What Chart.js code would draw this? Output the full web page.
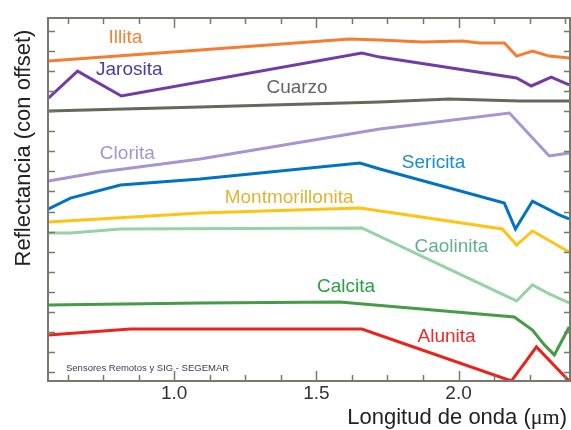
<!DOCTYPE html>
<html>
<head>
<meta charset="utf-8">
<script src="https://cdn.jsdelivr.net/npm/chart.js@4.4.1/dist/chart.umd.min.js"></script>
<style>
  html, body { margin: 0; padding: 0; background: #fff; }
  #wrap { width: 571px; height: 430px; }
</style>
</head>
<body>
<div id="wrap"><canvas id="myChart" width="571" height="430"></canvas></div>
<script>
// minerals, top to bottom
const minerals = ['Illita', 'Jarosita', 'Cuarzo', 'Clorita', 'Sericita',
  'Montmorillonita', 'Caolinita', 'Calcita', 'Alunita'];

// wavelength (um) / reflectance with offset (arbitrary units)
const illitaWl = [0.558, 1.091, 1.617, 1.723, 1.874, 2.014, 2.074, 2.161, 2.204, 2.260, 2.319, 2.389];
const illitaRef = [15.50, 16.05, 16.60, 16.55, 16.45, 16.50, 16.40, 16.40, 15.75, 16.00, 15.75, 15.65];

const jarositaWl = [0.558, 0.660, 0.814, 1.660, 1.723, 2.204, 2.256, 2.326, 2.389];
const jarositaRef = [13.66, 15.00, 13.76, 15.90, 15.70, 14.66, 14.26, 14.70, 14.31];

const cuarzoWl = [0.558, 1.091, 1.723, 1.968, 2.214, 2.389];
const cuarzoRef = [13.01, 13.21, 13.46, 13.61, 13.51, 13.51];

const cloritaWl = [0.558, 0.740, 1.091, 1.723, 2.179, 2.319, 2.389];
const cloritaRef = [9.52, 9.97, 10.62, 12.11, 12.91, 10.77, 10.92];

const sericitaWl = [0.558, 0.635, 0.811, 1.091, 1.653, 1.723, 2.161, 2.200, 2.260, 2.354, 2.389];
const sericitaRef = [8.13, 8.67, 9.32, 9.62, 10.42, 10.12, 8.42, 7.13, 8.52, 7.83, 7.63];

const montmorWl = [0.558, 1.091, 1.653, 2.154, 2.204, 2.260, 2.389];
const montmorRef = [7.48, 7.93, 8.18, 7.13, 6.33, 7.03, 5.98];

const caolinitaWl = [0.558, 0.635, 0.811, 1.660, 2.204, 2.260, 2.319, 2.389];
const caolinitaRef = [6.93, 6.93, 7.13, 7.18, 3.54, 4.34, 3.89, 3.44];

const calcitaWl = [0.558, 1.091, 1.582, 2.196, 2.260, 2.302, 2.337, 2.389];
const calcitaRef = [3.34, 3.44, 3.49, 2.74, 2.09, 1.35, 0.85, 2.24];

const alunitaWl = [0.558, 0.846, 1.660, 2.186, 2.274, 2.389];
const alunitaRef = [1.84, 2.14, 2.14, -0.45, 1.25, -0.45];

// axis ticks
const xTickLabels = ['1.0', '1.5', '2.0'];
const xMajorTicks = [1.0, 1.5, 2.0];
const xMinorStep = 0.125;
const yTickCount = 18;

const wls = [illitaWl, jarositaWl, cuarzoWl, cloritaWl, sericitaWl, montmorWl, caolinitaWl, calcitaWl, alunitaWl];
const refs = [illitaRef, jarositaRef, cuarzoRef, cloritaRef, sericitaRef, montmorRef, caolinitaRef, calcitaRef, alunitaRef];

const lineColors = ['rgb(245,125,50)', 'rgb(115,60,165)', 'rgb(100,105,90)', 'rgb(165,150,210)',
  'rgb(0,115,195)', 'rgb(255,195,20)', 'rgb(150,210,165)', 'rgb(70,155,70)', 'rgb(235,35,30)'];
const textColors = ['rgb(245,130,50)', 'rgb(75,60,165)', 'rgb(100,100,100)', 'rgb(160,150,210)',
  'rgb(25,140,210)', 'rgb(225,180,50)', 'rgb(100,175,145)', 'rgb(40,160,70)', 'rgb(240,40,40)'];
// label anchor, in data units
const labelAt = [[0.828, 16.65], [0.842, 15.05], [1.432, 14.16], [0.835, 10.87], [1.912, 10.42],
  [1.404, 8.67], [1.975, 6.23], [1.604, 4.24], [1.958, 1.74]];

const SANS = '"Liberation Sans", Arial, Helvetica, sans-serif';
const AXIS = 'rgb(120,120,108)';

const datasets = minerals.map((name, i) => ({
  label: name,
  data: wls[i].map((w, j) => ({ x: w, y: refs[i][j] })),
  borderColor: lineColors[i],
  borderWidth: 3,
  pointRadius: 0,
  tension: 0,
  fill: false
}));

// frame, inward ticks, tick labels, titles and curve names
const framePlugin = {
  id: 'frame',
  afterDatasetsDraw(chart) {
    const c = chart.ctx;
    const a = chart.chartArea;
    const xs = chart.scales.x;
    const ys = chart.scales.y;
    c.save();
    c.strokeStyle = AXIS;
    c.lineWidth = 2;
    c.strokeRect(a.left, a.top, a.right - a.left, a.bottom - a.top);

    c.lineWidth = 1.5;
    c.beginPath();
    for (let v = 0.625; v <= xs.max + 1e-9; v += xMinorStep) {
      const px = Math.round(xs.getPixelForValue(v)) + 0.5;
      const major = xMajorTicks.some(m => Math.abs(m - v) < 1e-6);
      const len = major ? 10 : 6;
      c.moveTo(px, a.bottom); c.lineTo(px, a.bottom - len);
      c.moveTo(px, a.top); c.lineTo(px, a.top + len);
    }
    for (let k = 0; k < yTickCount; k++) {
      const py = Math.round(ys.getPixelForValue(k)) + 0.5;
      c.moveTo(a.left, py); c.lineTo(a.left + 7, py);
      c.moveTo(a.right, py); c.lineTo(a.right - 6, py);
    }
    c.stroke();

    // x tick labels
    c.fillStyle = '#333';
    c.font = '19px ' + SANS;
    c.textAlign = 'center';
    c.textBaseline = 'middle';
    xMajorTicks.forEach((v, i) => {
      c.fillText(xTickLabels[i], xs.getPixelForValue(v), a.bottom + 13);
    });

    // x title, with a serif micro sign
    const y = a.bottom + 37;
    const p1 = 'Longitud de onda (', p2 = '\u03bcm', p3 = ')';
    c.fillStyle = '#222';
    c.textAlign = 'left';
    c.font = '22px ' + SANS;
    const w1 = c.measureText(p1).width, w3 = c.measureText(p3).width;
    c.font = '22px "Liberation Serif", "Times New Roman", serif';
    const w2 = c.measureText(p2).width;
    let x0 = 567 - (w1 + w2 + w3);
    c.font = '22px ' + SANS;
    c.fillText(p1, x0, y);
    c.font = '22px "Liberation Serif", "Times New Roman", serif';
    c.fillText(p2, x0 + w1, y);
    c.font = '22px ' + SANS;
    c.fillText(p3, x0 + w1 + w2, y);

    // y title
    c.save();
    c.translate(24, 148);
    c.rotate(-Math.PI / 2);
    c.textAlign = 'center';
    c.fillText('Reflectancia (con offset)', 0, 0);
    c.restore();

    // curve names
    c.font = '19px ' + SANS;
    c.textAlign = 'center';
    minerals.forEach((name, i) => {
      c.fillStyle = textColors[i];
      c.fillText(name, xs.getPixelForValue(labelAt[i][0]), ys.getPixelForValue(labelAt[i][1]));
    });

    // credit
    c.fillStyle = 'rgb(60,60,80)';
    c.font = '9.5px ' + SANS;
    c.textAlign = 'left';
    c.fillText('Sensores Remotos y SIG - SEGEMAR', 66, 368);
    c.restore();
  }
};

const ctx = document.getElementById('myChart').getContext('2d');
const chart = new Chart(ctx, {
  type: 'line',
  data: { datasets: datasets },
  options: {
    responsive: false,
    animation: false,
    devicePixelRatio: 1,
    layout: { padding: { left: 48, top: 18, right: 1, bottom: 49 } },
    plugins: { legend: { display: false }, tooltip: { enabled: false } },
    scales: {
      x: { type: 'linear', min: 0.556, max: 2.392, display: false },
      y: { type: 'linear', min: -0.45, max: 17.65, display: false }
    }
  },
  plugins: [framePlugin]
});
</script>
</body>
</html>
